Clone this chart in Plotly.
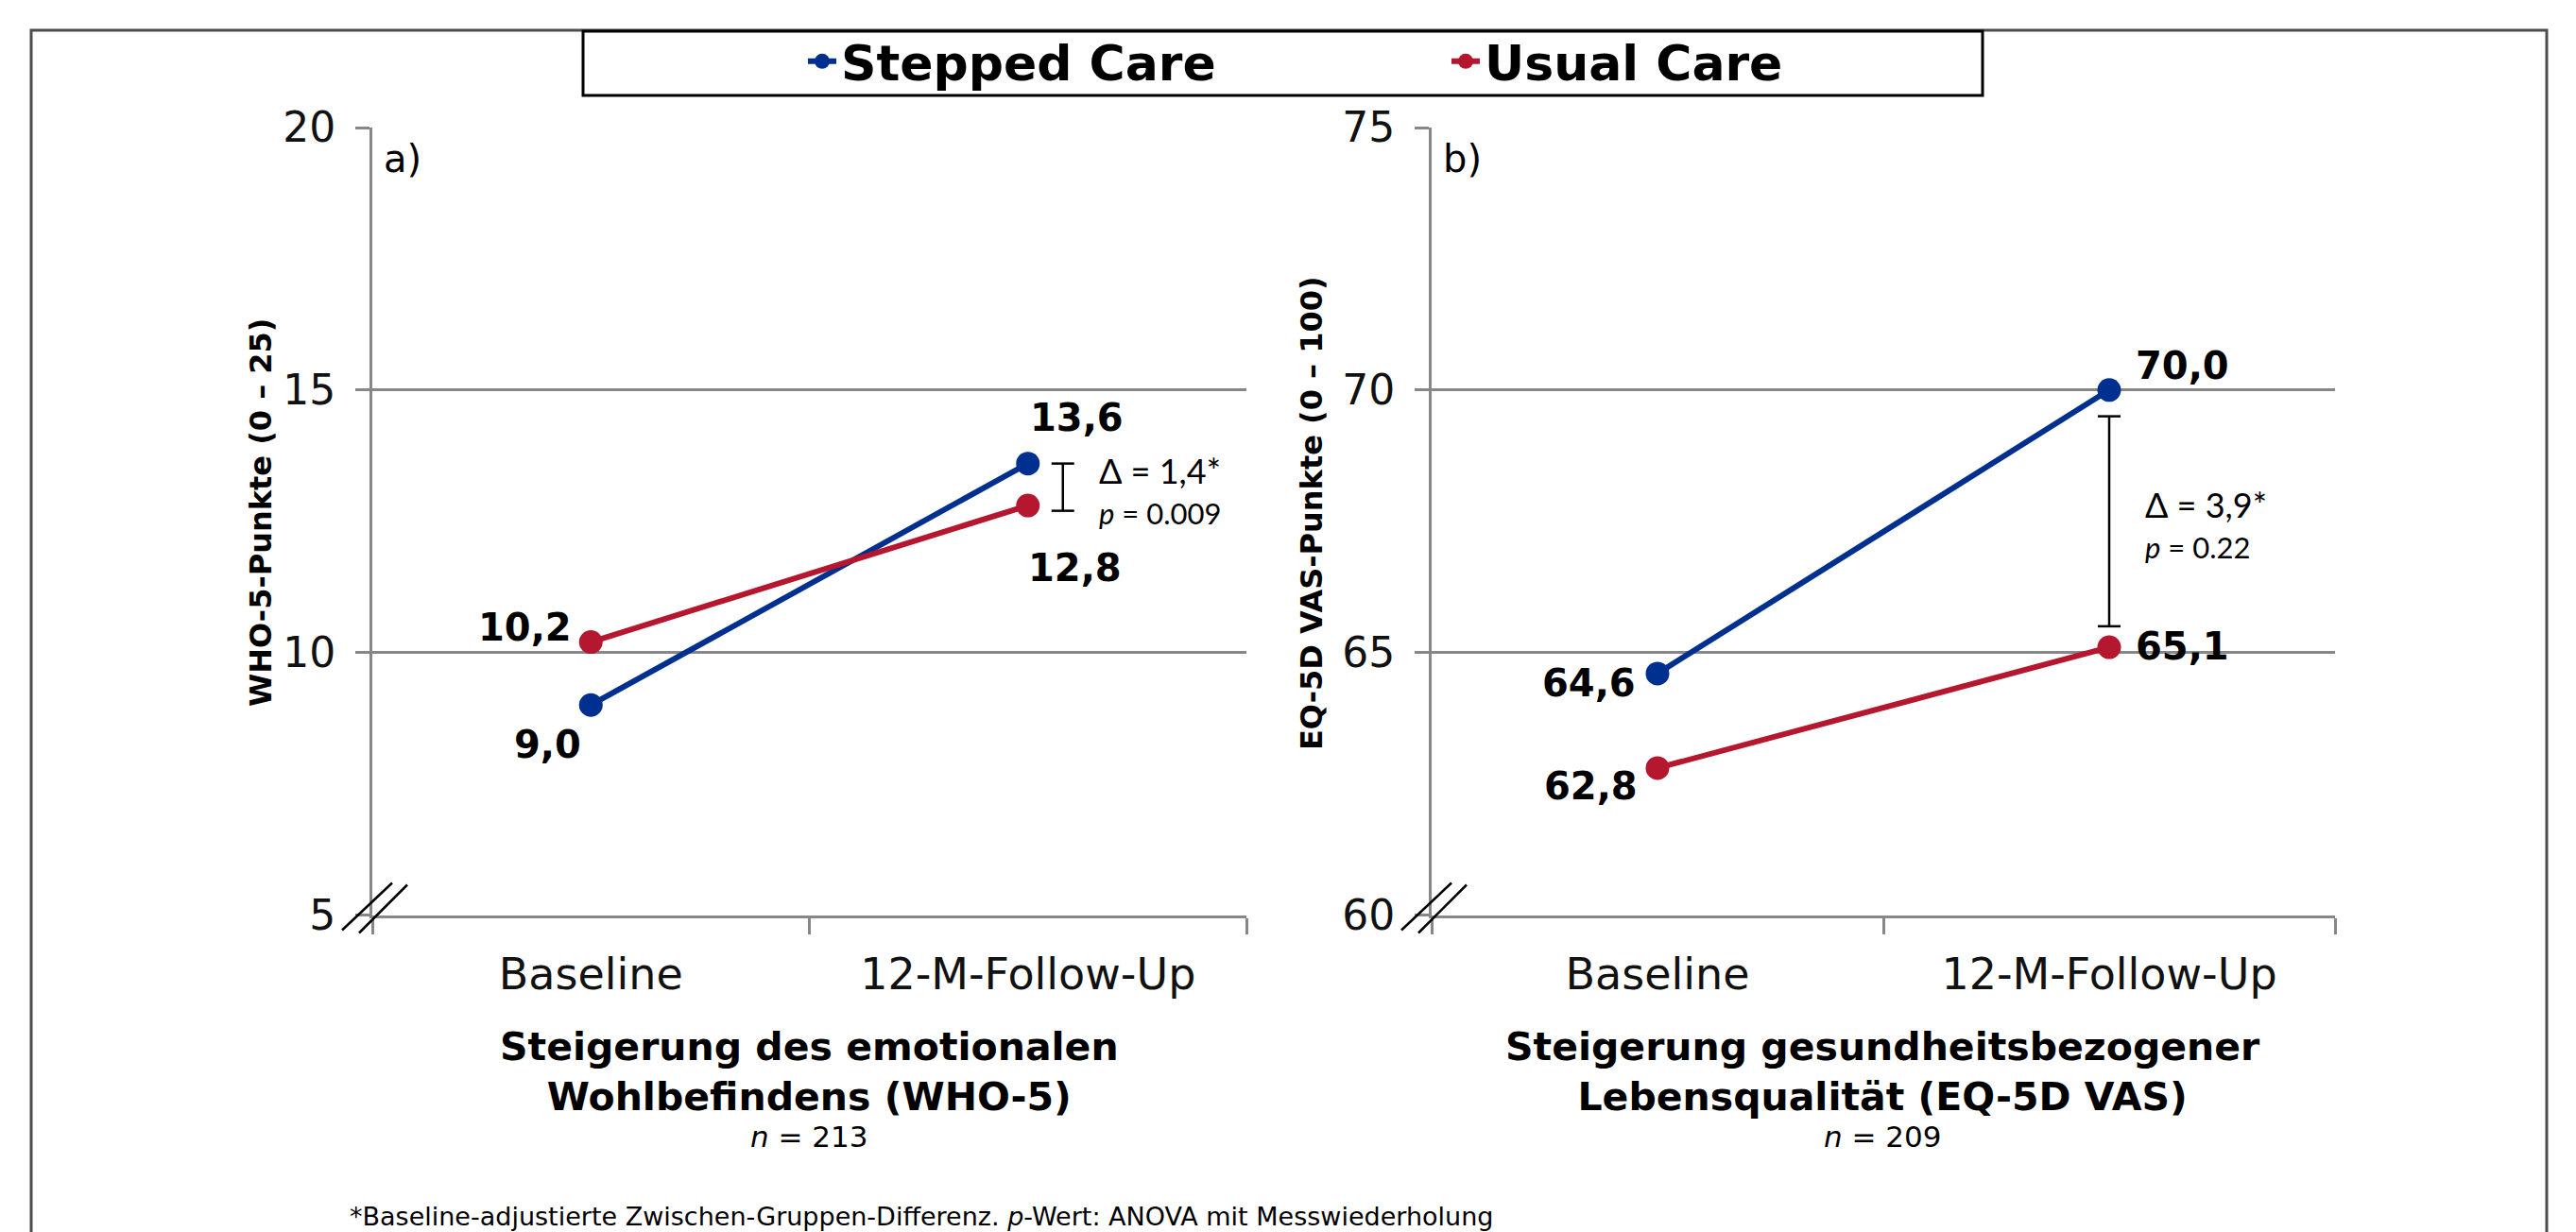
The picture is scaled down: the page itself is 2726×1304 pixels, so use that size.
import plotly.graph_objects as go

# ---------------- data ----------------
timepoints = ["Baseline", "12-M-Follow-Up"]
series_names = ["Stepped Care", "Usual Care"]
series_colors = ["#00308F", "#B5172F"]

who5_stepped = [9.0, 13.6]
who5_usual = [10.2, 12.8]
eq5d_stepped = [64.6, 70.0]
eq5d_usual = [62.8, 65.1]

who5_range = [5, 20]
eq5d_range = [60, 75]
y_dtick = 5

who5_bracket = [12.7, 13.6]
eq5d_bracket = [65.5, 69.5]
bracket_x = [1.08, 1.0]
delta_texts = ["Δ = 1,4*", "Δ = 3,9*"]
p_values = ["0.009", "0.22"]

panel_letters = ["a)", "b)"]
y_titles = ["WHO-5-Punkte (0 – 25)", "EQ-5D VAS-Punkte (0 – 100)"]
panel_titles = ["Steigerung des emotionalen<br>Wohlbefindens (WHO-5)",
                "Steigerung gesundheitsbezogener<br>Lebensqualität (EQ-5D VAS)"]
sample_sizes = [213, 209]
footnote = "*Baseline-adjustierte Zwischen-Gruppen-Differenz. <i>p</i>-Wert: ANOVA mit Messwiederholung"

# ---------------- layout constants ----------------
W, H = 2726, 1304
FONT = "DejaVu Sans"
GRID = "#878787"
px = lambda v: v / W
py = lambda v: 1 - v / H

x_domains = [[px(394), px(1319)], [px(1515), px(2471)]]
y_domain = [py(968.5), py(135)]

fig = go.Figure()

panels = [
    ("x", "y", who5_stepped, who5_usual, who5_range, who5_bracket),
    ("x2", "y2", eq5d_stepped, eq5d_usual, eq5d_range, eq5d_bracket),
]

# label offsets (pixel styling) per panel: [stepped_base, usual_base, stepped_fu, usual_fu]
label_styles = [
    [dict(xanchor="center", xshift=-46, yshift=-42),
     dict(xanchor="right", xshift=-18, yshift=16),
     dict(xanchor="center", xshift=52, yshift=49),
     dict(xanchor="center", xshift=50, yshift=-66)],
    [dict(xanchor="right", xshift=-21, yshift=-10),
     dict(xanchor="right", xshift=-19, yshift=-19),
     dict(xanchor="left", xshift=26, yshift=26),
     dict(xanchor="left", xshift=26, yshift=1)],
]

fmt = lambda v: f"{v:.1f}".replace(".", ",")

for i, (xr, yr, stepped, usual, yrange, bracket) in enumerate(panels):
    for k, (name, vals, col) in enumerate(zip(series_names, [stepped, usual], series_colors)):
        fig.add_trace(go.Scatter(
            x=timepoints, y=vals, name=name, mode="lines+markers",
            line=dict(color=col, width=6), marker=dict(color=col, size=25),
            xaxis=xr, yaxis=yr, showlegend=(i == 0), legendgroup=name,
            hoverinfo="skip"))
    # data labels
    pts = [(timepoints[0], stepped[0]), (timepoints[0], usual[0]),
           (timepoints[1], stepped[1]), (timepoints[1], usual[1])]
    for (xv, yv), st in zip(pts, label_styles[i]):
        fig.add_annotation(x=xv, y=yv, xref=xr, yref=yr, text=fmt(yv), showarrow=False,
                           yanchor="middle", font=dict(family=FONT, size=40, color="black", weight="bold"),
                           **st)
    # bracket
    bx = bracket_x[i]
    fig.add_shape(type="line", xref=xr, yref=yr, x0=bx, x1=bx, y0=bracket[0], y1=bracket[1],
                  line=dict(color="black", width=2.5))
    for bv in bracket:
        fig.add_shape(type="line", xref=xr, yref=yr, xsizemode="pixel", xanchor=bx,
                      x0=-12, x1=12, y0=bv, y1=bv, line=dict(color="black", width=2.5))
    mid = sum(bracket) / 2
    fig.add_annotation(x=bx, y=mid, xref=xr, yref=yr, text=delta_texts[i], showarrow=False,
                       xanchor="left", yanchor="middle", xshift=36, yshift=18,
                       font=dict(family="Lato", size=36, color="black"))
    fig.add_annotation(x=bx, y=mid, xref=xr, yref=yr, text=f"<i>p</i> = {p_values[i]}", showarrow=False,
                       xanchor="left", yanchor="middle", xshift=36, yshift=-27,
                       font=dict(family="Lato", size=31, color="black"))
    # panel letter
    fig.add_annotation(x=0, y=1, xref=f"{xr} domain", yref=f"{yr} domain", text=panel_letters[i],
                       showarrow=False, xanchor="left", yanchor="top", xshift=10, yshift=-8,
                       font=dict(family=FONT, size=40, color="black"))
    # axis break marks
    for (a0, b0, a1, b1) in [(-32, -16, 21, 34), (-14, -19, 37, 32)]:
        fig.add_shape(type="line", xref=f"{xr} domain", yref=f"{yr} domain",
                      xsizemode="pixel", ysizemode="pixel", xanchor=0, yanchor=0,
                      x0=a0, x1=a1, y0=b0, y1=b1, line=dict(color="black", width=2.5))
    # y title
    xc = x_domains[i][0] - px(118 if i == 0 else 127)
    fig.add_annotation(x=xc, y=py(543), xref="paper", yref="paper", text=y_titles[i],
                       textangle=-90, showarrow=False, xanchor="center", yanchor="middle",
                       font=dict(family=FONT, size=32, color="black", weight="bold"))
    # panel subtitles
    xm = (x_domains[i][0] + x_domains[i][1]) / 2
    fig.add_annotation(x=xm, y=py(1134), xref="paper", yref="paper", text=panel_titles[i],
                       showarrow=False, xanchor="center", yanchor="middle",
                       font=dict(family=FONT, size=41, color="black", weight="bold"))
    fig.add_annotation(x=xm, y=py(1203), xref="paper", yref="paper",
                       text=f"<i>n</i> = {sample_sizes[i]}", showarrow=False,
                       xanchor="center", yanchor="middle",
                       font=dict(family=FONT, size=31, color="black"))

axis_common_x = dict(type="category", range=[-0.5, 1.5], tickson="boundaries", ticks="outside",
                     ticklen=17, tickwidth=3, tickcolor=GRID, showline=True, linecolor=GRID,
                     linewidth=3, showgrid=False, zeroline=False, automargin=False,
                     tickfont=dict(family=FONT, size=46, color="#111"), ticklabelstandoff=20)
axis_common_y = dict(dtick=y_dtick, ticks="outside", ticklen=15, tickwidth=3, tickcolor=GRID,
                     showline=True, linecolor=GRID, linewidth=3, showgrid=True, gridcolor=GRID,
                     gridwidth=3, zeroline=False, domain=y_domain, automargin=False,
                     tickfont=dict(family=FONT, size=44, color="#111"), ticklabelstandoff=12)

fig.update_layout(
    width=W, height=H, autosize=False,
    margin=dict(l=0, r=0, t=0, b=0, autoexpand=False),
    paper_bgcolor="white", plot_bgcolor="white",
    font=dict(family=FONT, color="black"),
    xaxis=dict(domain=x_domains[0], anchor="y", **axis_common_x),
    yaxis=dict(range=who5_range, tick0=who5_range[0], anchor="x", **axis_common_y),
    xaxis2=dict(domain=x_domains[1], anchor="y2", **axis_common_x),
    yaxis2=dict(range=eq5d_range, tick0=eq5d_range[0], anchor="x2", **axis_common_y),
    showlegend=True,
    legend=dict(orientation="h", x=px(850), xanchor="left", y=py(65), yanchor="middle",
                entrywidth=636, entrywidthmode="pixels", bgcolor="rgba(0,0,0,0)",
                font=dict(family=FONT, size=52, color="black", weight="bold"),
                itemsizing="trace", tracegroupgap=0),
)

# outer frame and legend box
fig.add_shape(type="rect", xref="paper", yref="paper", x0=px(33), x1=px(2695), y0=-0.05, y1=py(32),
              line=dict(color="#4d4d4d", width=3), fillcolor="rgba(0,0,0,0)", layer="below")
fig.add_shape(type="rect", xref="paper", yref="paper", x0=px(617), x1=px(2098), y0=py(101), y1=py(33),
              line=dict(color="black", width=3), fillcolor="rgba(0,0,0,0)")

fig.add_annotation(x=px(368), y=py(1287), xref="paper", yref="paper", text=footnote, showarrow=False,
                   xanchor="left", yanchor="middle", font=dict(family=FONT, size=27, color="black"))

fig.write_html("out.html", config={"displayModeBar": False},
               post_script="document.body.style.margin='0';document.body.style.overflow='hidden';")
